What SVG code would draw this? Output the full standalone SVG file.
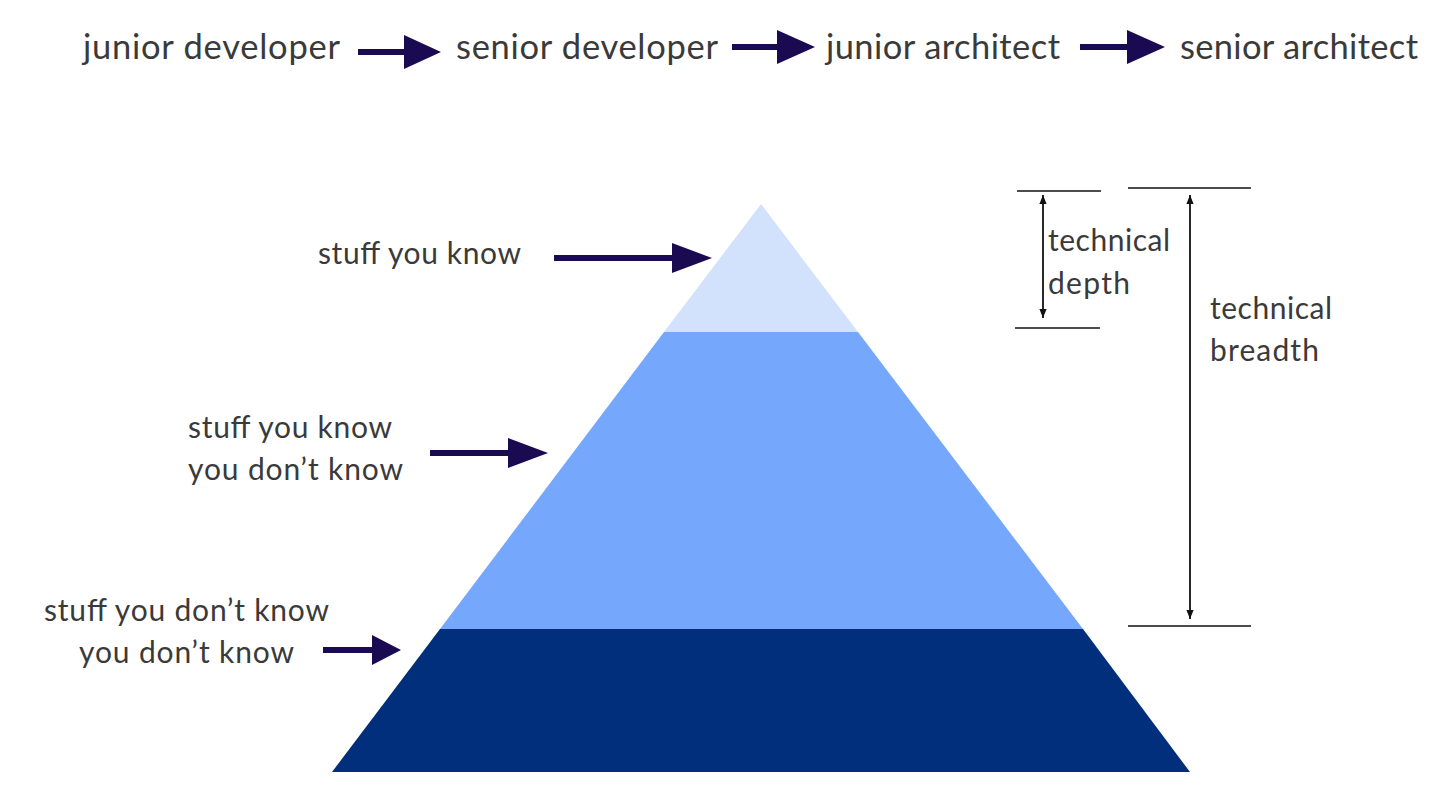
<svg xmlns="http://www.w3.org/2000/svg" width="1456" height="809" viewBox="0 0 1456 809">
<defs>
<style>
text{font-family:Lato,"Noto Sans","Liberation Sans",sans-serif;fill:#3a3a3a}
.t{font-size:34.5px}
.s{font-size:30px}
.big{fill:#1a0a52}
.dim{stroke:#111;stroke-width:1.8;fill:none}
.dl{stroke:#111;stroke-width:1.6}
</style>
<marker id="ah" viewBox="0 0 10 10" refX="10" refY="5" markerWidth="9" markerHeight="9" orient="auto-start-reverse" markerUnits="userSpaceOnUse">
<path d="M0,1 L10,5 L0,9 z" fill="#111"/>
</marker>
</defs>
<rect width="1456" height="809" fill="#fff"/>
<g id="pyramid">
<polygon id="band-top" points="761,204 858,332 664,332" fill="#d2e2fc"/>
<polygon id="band-mid" points="664,332 858,332 1083,629 440,629" fill="#75a8fc"/>
<polygon id="band-bot" points="440,629 1083,629 1190,772 332,772" fill="#012f7b"/>
</g>
<g id="career">
<g id="n-jd"><text class="t" x="83" y="59" textLength="257" lengthAdjust="spacing">junior developer</text></g>
<g id="n-sd"><text class="t" x="456" y="59" textLength="262" lengthAdjust="spacing">senior developer</text></g>
<g id="n-ja"><text class="t" x="826" y="59" textLength="234" lengthAdjust="spacing">junior architect</text></g>
<g id="n-sa"><text class="t" x="1180" y="59" textLength="238" lengthAdjust="spacing">senior architect</text></g>
</g>
<g id="labels">
<g id="l-know"><text class="s" x="318" y="264" textLength="203" lengthAdjust="spacing">stuff you know</text></g>
<g id="l-kdk"><text class="s" x="188" y="438" textLength="204" lengthAdjust="spacing">stuff you know</text><text class="s" x="188" y="480" textLength="215" lengthAdjust="spacing">you don’t know</text></g>
<g id="l-dkdk"><text class="s" x="44" y="621" textLength="285" lengthAdjust="spacing">stuff you don’t know</text><text class="s" x="79" y="663" textLength="215" lengthAdjust="spacing">you don’t know</text></g>
<g id="l-depth"><text class="s" x="1048" y="251" textLength="122" lengthAdjust="spacing">technical</text><text class="s" x="1048" y="294" textLength="82" lengthAdjust="spacing">depth</text></g>
<g id="l-breadth"><text class="s" x="1210" y="319" textLength="122" lengthAdjust="spacing">technical</text><text class="s" x="1210" y="361" textLength="109" lengthAdjust="spacing">breadth</text></g>
</g>
<g id="connectors">
<path class="big" d="M358,49 H404 V35 L441,52 L404,69 V55 H358 z"/>
<path class="big" d="M732,44 H777 V30 L815,47 L777,64 V50 H732 z"/>
<path class="big" d="M1080,44 H1127 V30 L1165,47 L1127,64 V50 H1080 z"/>
<path class="big" d="M554,255 H672 V243 L712,258 L672,273 V261 H554 z"/>
<path class="big" d="M430,450 H508 V438 L548,453 L508,468 V456 H430 z"/>
<path class="big" d="M323,647 H372 V635 L401,650 L372,665 V653 H323 z"/>
<line class="dl" x1="1017" y1="191" x2="1101" y2="191"/>
<line class="dl" x1="1015" y1="328" x2="1100" y2="328"/>
<line class="dim" x1="1043" y1="195" x2="1043" y2="318" marker-start="url(#ah)" marker-end="url(#ah)"/>
<line class="dl" x1="1128" y1="188" x2="1251" y2="188"/>
<line class="dl" x1="1128" y1="626" x2="1251" y2="626"/>
<line class="dim" x1="1190" y1="195" x2="1190" y2="619" marker-start="url(#ah)" marker-end="url(#ah)"/>
</g>
</svg>
